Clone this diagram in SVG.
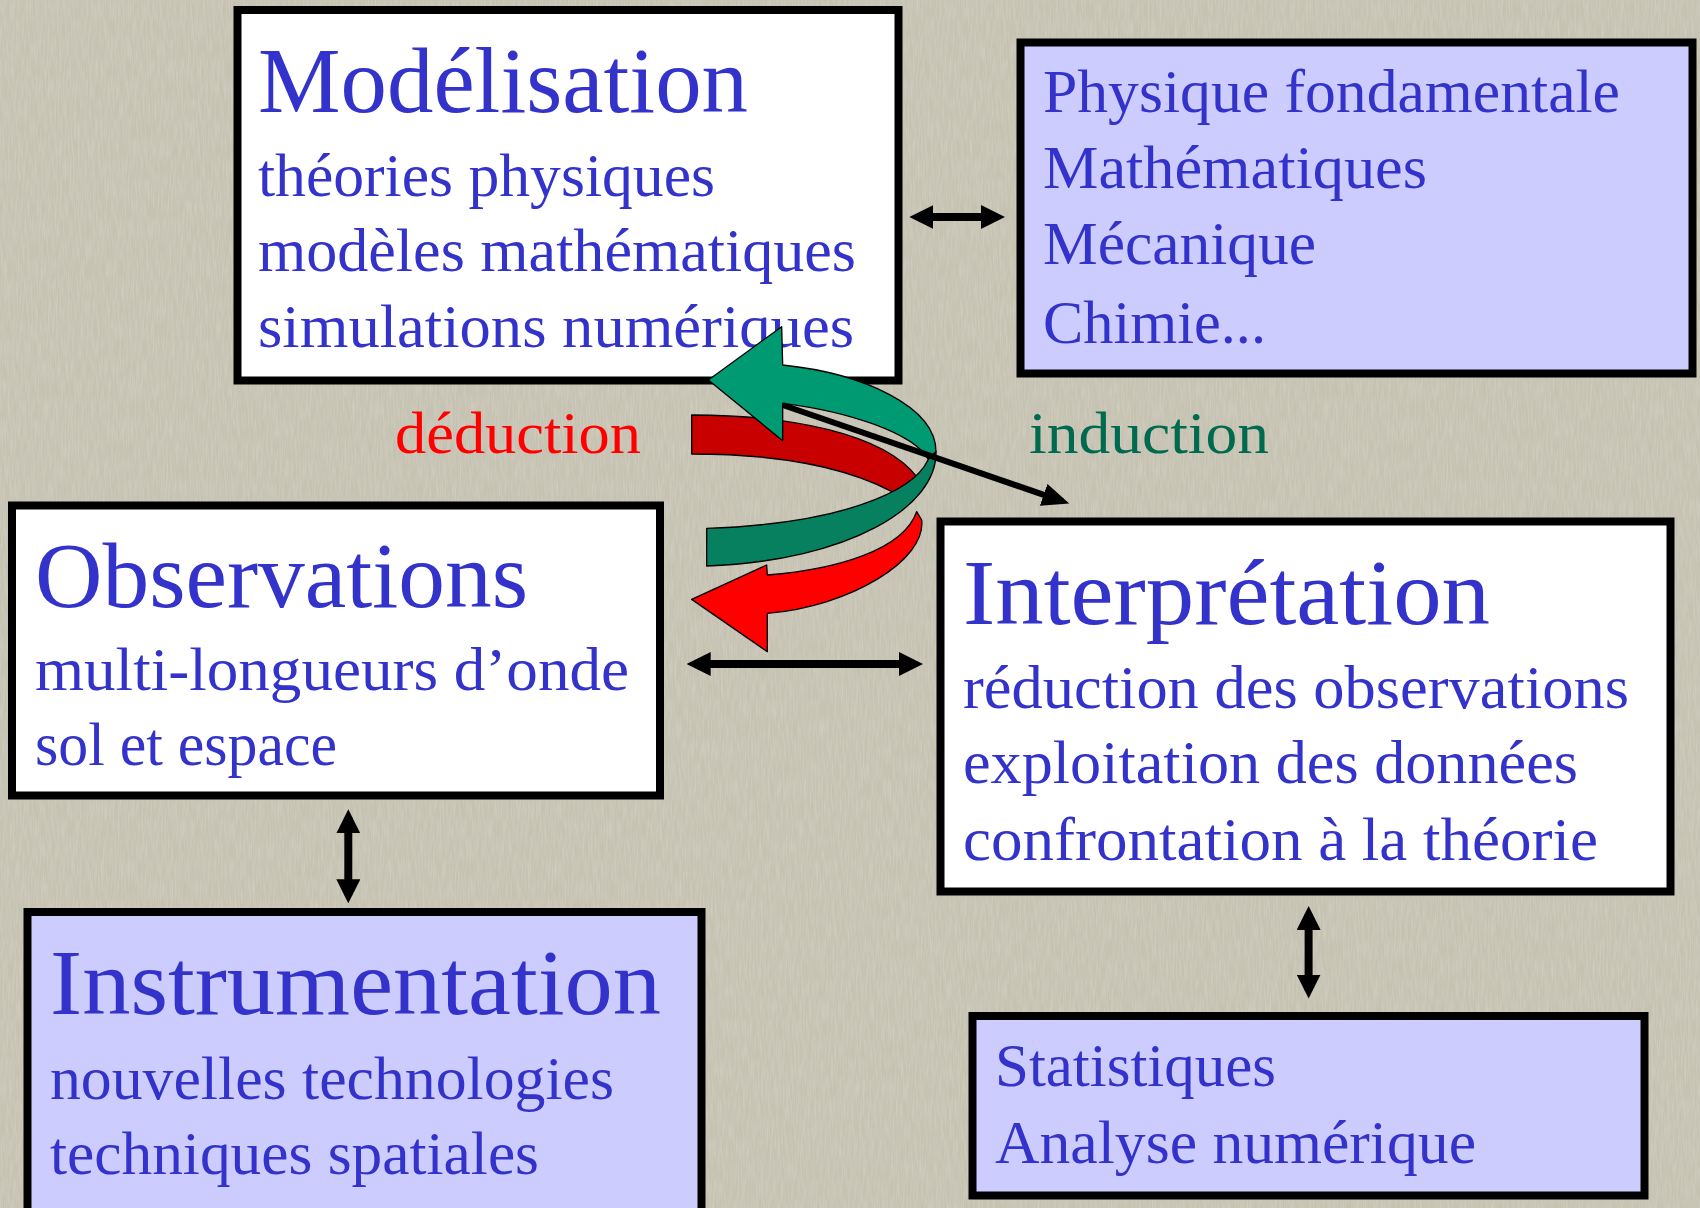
<svg xmlns="http://www.w3.org/2000/svg" width="1700" height="1208" viewBox="0 0 1700 1208">
<defs>
<style>
.box{stroke:#000;stroke-width:8}
.w{fill:#fff}
.l{fill:#ccccff}
.t{font-family:"Liberation Serif","Times New Roman",serif;fill:#3333cc}
.h{font-size:93px}
.s{font-size:62px}
.con{stroke:#000;stroke-width:8;fill:none}
.diag{stroke:#000;stroke-width:6;fill:none}
.rib{stroke:#000;stroke-width:4;stroke-linejoin:round}
</style>
<marker id="ah" markerUnits="userSpaceOnUse" markerWidth="24" markerHeight="24" viewBox="0 0 24 24" refX="16" refY="12" orient="auto-start-reverse">
<path d="M0,0 L24,12 L0,24 z" fill="#000"/>
</marker>
<marker id="ah2" markerUnits="userSpaceOnUse" markerWidth="27" markerHeight="23" viewBox="0 0 27 23" refX="20" refY="11.5" orient="auto">
<path d="M0,0 L27,11.5 L0,23 z" fill="#000"/>
</marker>
<filter id="grain" x="0" y="0" width="100%" height="100%">
<feTurbulence type="fractalNoise" baseFrequency="0.6 0.05" numOctaves="2" seed="7" result="n"/>
<feColorMatrix in="n" type="matrix" values="0 0 0 0 1  0 0 0 0 1  0 0 0 0 1  0.9 0 0 0 -0.3"/>
</filter>
</defs>
<rect x="0" y="0" width="1700" height="1208" fill="#c6c2b2"/>
<rect x="0" y="0" width="1700" height="1208" filter="url(#grain)" opacity="0.35"/>

<g id="modelisation">
<rect class="box w" x="237.5" y="10" width="661" height="370.5"/>
<text class="t h" x="258" y="112" textLength="490" lengthAdjust="spacingAndGlyphs">Modélisation</text>
<text class="t s" x="258" y="196" textLength="457" lengthAdjust="spacingAndGlyphs">théories physiques</text>
<text class="t s" x="258" y="271" textLength="598" lengthAdjust="spacingAndGlyphs">modèles mathématiques</text>
<text class="t s" x="258" y="347" textLength="596" lengthAdjust="spacingAndGlyphs">simulations numériques</text>
</g>

<g id="physique">
<rect class="box l" x="1020.5" y="42.5" width="672" height="331"/>
<text class="t s" x="1043" y="112" textLength="577" lengthAdjust="spacingAndGlyphs">Physique fondamentale</text>
<text class="t s" x="1043" y="188" textLength="384" lengthAdjust="spacingAndGlyphs">Mathématiques</text>
<text class="t s" x="1043" y="264" textLength="273" lengthAdjust="spacingAndGlyphs">Mécanique</text>
<text class="t s" x="1043" y="343" textLength="223" lengthAdjust="spacingAndGlyphs">Chimie...</text>
</g>

<g id="observations">
<rect class="box w" x="12" y="505.5" width="648" height="290"/>
<text class="t h" x="35" y="607" textLength="493" lengthAdjust="spacingAndGlyphs">Observations</text>
<text class="t s" x="35" y="690" textLength="594" lengthAdjust="spacingAndGlyphs">multi-longueurs d’onde</text>
<text class="t s" x="35" y="765" textLength="302" lengthAdjust="spacingAndGlyphs">sol et espace</text>
</g>

<g id="interpretation">
<rect class="box w" x="940.5" y="521.5" width="730" height="370"/>
<text class="t h" x="963" y="624" textLength="527" lengthAdjust="spacingAndGlyphs">Interprétation</text>
<text class="t s" x="963" y="708" textLength="666" lengthAdjust="spacingAndGlyphs">réduction des observations</text>
<text class="t s" x="963" y="783" textLength="615" lengthAdjust="spacingAndGlyphs">exploitation des données</text>
<text class="t s" x="963" y="860" textLength="635" lengthAdjust="spacingAndGlyphs">confrontation à la théorie</text>
</g>

<g id="instrumentation">
<rect class="box l" x="27.5" y="912" width="674" height="300"/>
<text class="t h" x="50" y="1014" textLength="611" lengthAdjust="spacingAndGlyphs">Instrumentation</text>
<text class="t s" x="50" y="1099" textLength="564" lengthAdjust="spacingAndGlyphs">nouvelles technologies</text>
<text class="t s" x="50" y="1174" textLength="489" lengthAdjust="spacingAndGlyphs">techniques spatiales</text>
</g>

<g id="statistiques">
<rect class="box l" x="972.5" y="1016" width="672" height="179.5"/>
<text class="t s" x="995" y="1086" textLength="281" lengthAdjust="spacingAndGlyphs">Statistiques</text>
<text class="t s" x="995" y="1163" textLength="481" lengthAdjust="spacingAndGlyphs">Analyse numérique</text>
</g>

<g id="labels">
<text x="395" y="453" font-family="Liberation Serif, serif" font-size="60" fill="#ff0000" textLength="246" lengthAdjust="spacingAndGlyphs">déduction</text>
<text x="1029" y="453" font-family="Liberation Serif, serif" font-size="60" fill="#006a4e" textLength="240" lengthAdjust="spacingAndGlyphs">induction</text>
</g>

<g id="connectors">
<g transform="translate(650,320) scale(0.333333)">
<path class="rib" fill="#c80000" d="M125,285 C420,285 700,340 800,470 L770,540 C620,445 400,402 125,402 Z"/>
<path class="rib" fill="#ff0000" d="M352,765 C560,748 760,690 800,575 L815,600 C830,720 600,860 352,880 L352,995 L125,838 L350,735 Z"/>
<path class="rib" fill="#009a72" d="M175,180 L395,20 L398,135 C640,160 858,260 858,395 L835,418 C790,340 600,275 398,250 L398,362 Z"/>
<path class="rib" fill="#07805f" d="M858,395 C862,560 600,722 170,738 L170,625 C560,612 790,520 835,418 Z"/>
</g>
<line class="diag" x1="782.7" y1="405" x2="1062.6" y2="501.3" marker-end="url(#ah2)"/>
<line class="con" x1="917.3" y1="217" x2="997" y2="217" marker-start="url(#ah)" marker-end="url(#ah)"/>
<line class="con" x1="694.7" y1="664" x2="915" y2="664" marker-start="url(#ah)" marker-end="url(#ah)"/>
<line class="con" x1="348.3" y1="817.3" x2="348.3" y2="895.3" marker-start="url(#ah)" marker-end="url(#ah)"/>
<line class="con" x1="1308.6" y1="914" x2="1308.6" y2="990.5" marker-start="url(#ah)" marker-end="url(#ah)"/>
</g>
</svg>
